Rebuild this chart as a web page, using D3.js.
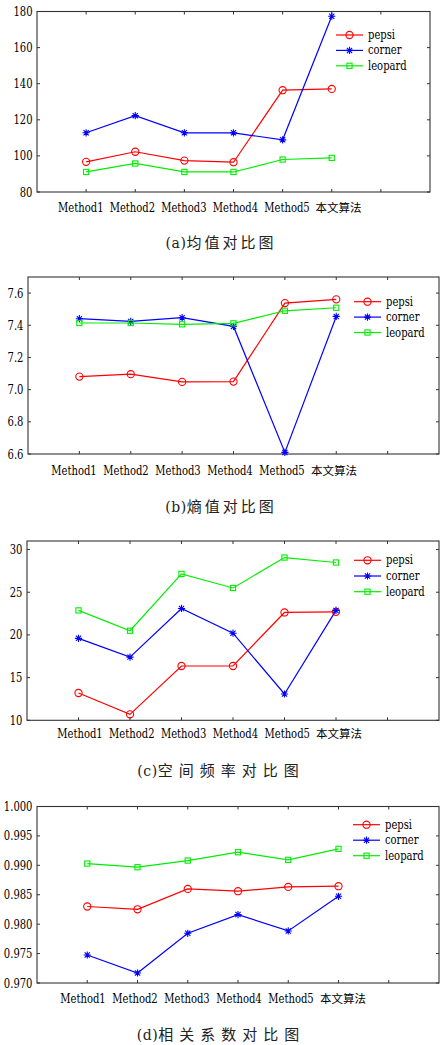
<!DOCTYPE html>
<html>
<head>
<meta charset="utf-8">
<script src="https://cdn.jsdelivr.net/npm/d3@7"></script>
<style>
  html, body { margin: 0; padding: 0; background: #fff; }
  svg { display: block; }
</style>
</head>
<body>
<svg id="chart" width="444" height="1045"></svg>
<script>
// ---------- data ----------
const categories = ["Method1", "Method2", "Method3", "Method4", "Method5", "本文算法"];
const seriesNames = ["pepsi", "corner", "leopard"];
const seriesColors = ["#ff0000", "#0000ff", "#00ee00"];
const seriesMarkers = ["circle", "asterisk", "square"];

const meanPepsi   = [96.7, 102.3, 97.4, 96.5, 136.4, 137.1];
const meanCorner  = [112.8, 122.3, 112.8, 112.8, 108.9, 177.4];
const meanLeopard = [91.1, 95.8, 91.1, 91.1, 98.0, 98.9];
const meanTicks   = [80, 100, 120, 140, 160, 180];

const entropyPepsi   = [7.081, 7.096, 7.048, 7.050, 7.538, 7.561];
const entropyCorner  = [7.441, 7.424, 7.447, 7.393, 6.610, 7.455];
const entropyLeopard = [7.414, 7.414, 7.406, 7.412, 7.490, 7.509];
const entropyTicks   = [6.6, 6.8, 7.0, 7.2, 7.4, 7.6];

const sfPepsi   = [13.2, 10.7, 16.36, 16.36, 22.63, 22.7];
const sfCorner  = [19.6, 17.4, 23.1, 20.2, 13.08, 22.87];
const sfLeopard = [22.87, 20.49, 27.15, 25.5, 29.06, 28.48];
const sfTicks   = [10, 15, 20, 25, 30];

const corrPepsi   = [0.9830, 0.98253, 0.98599, 0.98560, 0.98633, 0.98645];
const corrCorner  = [0.97476, 0.97170, 0.97845, 0.98163, 0.97885, 0.98474];
const corrLeopard = [0.99030, 0.98968, 0.99081, 0.99223, 0.99093, 0.99280];
const corrTicks   = [0.970, 0.975, 0.980, 0.985, 0.990, 0.995, 1.000];

const captionLetters = ["(a)", "(b)", "(c)", "(d)"];
const captionTitles = ["均值对比图", "熵值对比图", "空间频率对比图", "相关系数对比图"];

// ---------- layout ----------
const SERIF = "'DejaVu Serif', serif";
const CJK = "'Noto Sans CJK SC', 'Noto Sans CJK JP', sans-serif";
const SQ = 0.77; // horizontal squeeze for the wide serif face

const panels = [
  { series: [meanPepsi, meanCorner, meanLeopard], ticks: meanTicks, domain: [80, 180], fmt: d3.format("d"),
    left: 37, right: 430, top: 11.5, bottom: 192, labelRange: [80.8, 338.5], labelY: 211.5,
    legend: { x1: 336, x2: 363, tx: 368, y0: 35, dy: 15.4 }, capY: 248, capLS: 3 },
  { series: [entropyPepsi, entropyCorner, entropyLeopard], ticks: entropyTicks, domain: [6.6, 7.7], fmt: d3.format(".1f"),
    left: 28, right: 439, top: 277, bottom: 454, labelRange: [74, 334], labelY: 474.5,
    legend: { x1: 354, x2: 381, tx: 386, y0: 301.7, dy: 15.4 }, capY: 511.5, capLS: 3 },
  { series: [sfPepsi, sfCorner, sfLeopard], ticks: sfTicks, domain: [10, 31], fmt: d3.format("d"),
    left: 27, right: 439, top: 541, bottom: 720.3, labelRange: [80, 339], labelY: 737.5,
    legend: { x1: 354, x2: 381, tx: 386, y0: 560.3, dy: 15.7 }, capY: 775.5, capLS: 6 },
  { series: [corrPepsi, corrCorner, corrLeopard], ticks: corrTicks, domain: [0.970, 1.000], fmt: d3.format(".3f"),
    left: 37, right: 439, top: 806.5, bottom: 983, labelRange: [83, 343], labelY: 1002.5,
    legend: { x1: 353, x2: 380, tx: 385, y0: 824.7, dy: 15.5 }, capY: 1040, capLS: 6 }
];

const svg = d3.select("#chart");
svg.append("rect").attr("width", 444).attr("height", 1045).attr("fill", "#fff");

function serifText(g, x, y, str, anchor) {
  return g.append("text")
    .attr("transform", `translate(${x},${y}) scale(${SQ},1)`)
    .attr("font-family", SERIF).attr("font-size", 13).attr("fill", "#000")
    .attr("text-anchor", anchor || "start").text(str);
}

function drawMarker(g, type, x, y, color) {
  if (type === "circle") {
    g.append("circle").attr("cx", x).attr("cy", y).attr("r", 3.6)
      .attr("fill", "none").attr("stroke", color).attr("stroke-width", 1.1);
  } else if (type === "square") {
    g.append("rect").attr("x", x - 2.6).attr("y", y - 2.6).attr("width", 5.2).attr("height", 5.2)
      .attr("fill", "none").attr("stroke", color).attr("stroke-width", 1.1);
  } else {
    const r = 3.6, d = 2.6;
    g.append("path")
      .attr("d", `M${x - r},${y}L${x + r},${y}M${x},${y - r}L${x},${y + r}M${x - d},${y - d}L${x + d},${y + d}M${x - d},${y + d}L${x + d},${y - d}`)
      .attr("stroke", color).attr("stroke-width", 1.1).attr("fill", "none");
  }
}

const tickPos = [1, 2, 3, 4, 5, 6, 7];

panels.forEach((p, pi) => {
  const g = svg.append("g");
  const x = d3.scaleLinear().domain([0, 8]).range([p.left, p.right]);
  const y = d3.scaleLinear().domain(p.domain).range([p.bottom, p.top]);
  const labelX = d3.scalePoint().domain(categories).range(p.labelRange);

  g.append("rect").attr("x", p.left).attr("y", p.top)
    .attr("width", p.right - p.left).attr("height", p.bottom - p.top)
    .attr("fill", "none").attr("stroke", "#333").attr("stroke-width", 1.1);

  const tl = 3;
  tickPos.forEach(t => {
    g.append("line").attr("x1", x(t)).attr("x2", x(t)).attr("y1", p.bottom).attr("y2", p.bottom - tl).attr("stroke", "#333");
    g.append("line").attr("x1", x(t)).attr("x2", x(t)).attr("y1", p.top).attr("y2", p.top + tl).attr("stroke", "#333");
  });
  p.ticks.forEach(t => {
    g.append("line").attr("x1", p.left).attr("x2", p.left + tl).attr("y1", y(t)).attr("y2", y(t)).attr("stroke", "#333");
    g.append("line").attr("x1", p.right).attr("x2", p.right - tl).attr("y1", y(t)).attr("y2", y(t)).attr("stroke", "#333");
    serifText(g, p.left - 4.5, y(t) + 4.5, p.fmt(t), "end");
  });

  categories.forEach(c => {
    const isCjk = /[\u4e00-\u9fff]/.test(c);
    if (isCjk) {
      g.append("text").attr("font-family", CJK).attr("font-size", 11.5).attr("fill", "#000")
        .attr("x", labelX(c)).attr("y", p.labelY)
        .attr("text-anchor", "middle").text(c);
    } else {
      serifText(g, labelX(c), p.labelY, c, "middle");
    }
  });

  const line = d3.line().x((d, i) => x(i + 1)).y(d => y(d));
  p.series.forEach((vals, si) => {
    g.append("path").datum(vals).attr("d", line)
      .attr("fill", "none").attr("stroke", seriesColors[si]).attr("stroke-width", 1.2);
    vals.forEach((v, i) => drawMarker(g, seriesMarkers[si], x(i + 1), y(v), seriesColors[si]));
  });

  seriesNames.forEach((name, si) => {
    const ly = p.legend.y0 + si * p.legend.dy;
    g.append("line").attr("x1", p.legend.x1).attr("x2", p.legend.x2).attr("y1", ly).attr("y2", ly)
      .attr("stroke", seriesColors[si]).attr("stroke-width", 1.2);
    drawMarker(g, seriesMarkers[si], (p.legend.x1 + p.legend.x2) / 2, ly, seriesColors[si]);
    serifText(g, p.legend.tx, ly + 4, name, "start");
  });

  const cap = g.append("text").attr("x", 221).attr("y", p.capY).attr("text-anchor", "middle")
    .attr("font-size", 15).attr("fill", "#222");
  cap.append("tspan").attr("font-family", SERIF).attr("font-size", 14).attr("letter-spacing", 0.5).text(captionLetters[pi]);
  cap.append("tspan").attr("font-family", CJK).attr("letter-spacing", p.capLS).text(captionTitles[pi]);
});
</script>
</body>
</html>
